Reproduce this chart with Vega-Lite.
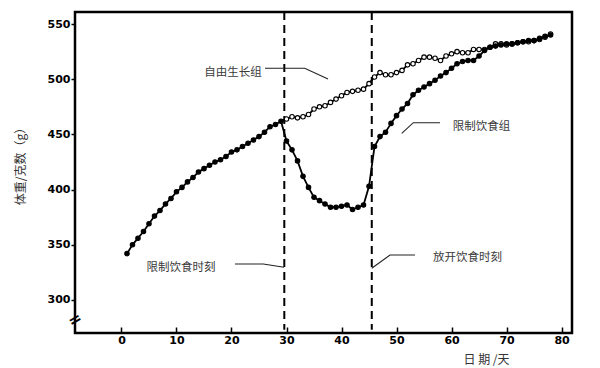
{
  "$schema": "https://vega.github.io/schema/vega-lite/v6.json",
  "width": 497,
  "height": 321,
  "autosize": "none",
  "padding": {"left": 75, "top": 12, "right": 28, "bottom": 35},
  "background": "white",
  "config": {
    "view": {"stroke": "black", "strokeWidth": 2.5},
    "axis": {
      "domain": false,
      "grid": false,
      "tickColor": "black",
      "tickWidth": 1.5,
      "labelFont": "DejaVu Sans",
      "labelFontWeight": "bold",
      "labelFontSize": 11,
      "labelColor": "black",
      "titleFont": "Noto Sans CJK SC",
      "titleFontWeight": "normal",
      "titleFontSize": 12,
      "titleColor": "#333333"
    }
  },
  "datasets": {
    "w": [
      {"day": 1, "weight": 342, "group": "shared"},
      {"day": 2, "weight": 350, "group": "shared"},
      {"day": 3, "weight": 356, "group": "shared"},
      {"day": 4, "weight": 362, "group": "shared"},
      {"day": 5, "weight": 369, "group": "shared"},
      {"day": 6, "weight": 376, "group": "shared"},
      {"day": 7, "weight": 381, "group": "shared"},
      {"day": 8, "weight": 387, "group": "shared"},
      {"day": 9, "weight": 392, "group": "shared"},
      {"day": 10, "weight": 398, "group": "shared"},
      {"day": 11, "weight": 402, "group": "shared"},
      {"day": 12, "weight": 407, "group": "shared"},
      {"day": 13, "weight": 411, "group": "shared"},
      {"day": 14, "weight": 416, "group": "shared"},
      {"day": 15, "weight": 419, "group": "shared"},
      {"day": 16, "weight": 422, "group": "shared"},
      {"day": 17, "weight": 425, "group": "shared"},
      {"day": 18, "weight": 427, "group": "shared"},
      {"day": 19, "weight": 430, "group": "shared"},
      {"day": 20, "weight": 434, "group": "shared"},
      {"day": 21, "weight": 436, "group": "shared"},
      {"day": 22, "weight": 439, "group": "shared"},
      {"day": 23, "weight": 442, "group": "shared"},
      {"day": 24, "weight": 445, "group": "shared"},
      {"day": 25, "weight": 448, "group": "shared"},
      {"day": 26, "weight": 452, "group": "shared"},
      {"day": 27, "weight": 457, "group": "shared"},
      {"day": 28, "weight": 459, "group": "shared"},
      {"day": 29, "weight": 462, "group": "shared"},
      {"day": 29, "weight": 462, "group": "free"},
      {"day": 30, "weight": 464, "group": "free"},
      {"day": 31, "weight": 466, "group": "free"},
      {"day": 32, "weight": 465, "group": "free"},
      {"day": 33, "weight": 466, "group": "free"},
      {"day": 34, "weight": 468, "group": "free"},
      {"day": 35, "weight": 473, "group": "free"},
      {"day": 36, "weight": 475, "group": "free"},
      {"day": 37, "weight": 476, "group": "free"},
      {"day": 38, "weight": 479, "group": "free"},
      {"day": 39, "weight": 482, "group": "free"},
      {"day": 40, "weight": 485, "group": "free"},
      {"day": 41, "weight": 488, "group": "free"},
      {"day": 42, "weight": 489, "group": "free"},
      {"day": 43, "weight": 490, "group": "free"},
      {"day": 44, "weight": 491, "group": "free"},
      {"day": 45, "weight": 496, "group": "free"},
      {"day": 46, "weight": 502, "group": "free"},
      {"day": 47, "weight": 506, "group": "free"},
      {"day": 48, "weight": 504, "group": "free"},
      {"day": 49, "weight": 504, "group": "free"},
      {"day": 50, "weight": 506, "group": "free"},
      {"day": 51, "weight": 508, "group": "free"},
      {"day": 52, "weight": 513, "group": "free"},
      {"day": 53, "weight": 514, "group": "free"},
      {"day": 54, "weight": 517, "group": "free"},
      {"day": 55, "weight": 520, "group": "free"},
      {"day": 56, "weight": 520, "group": "free"},
      {"day": 57, "weight": 519, "group": "free"},
      {"day": 58, "weight": 517, "group": "free"},
      {"day": 59, "weight": 521, "group": "free"},
      {"day": 60, "weight": 523, "group": "free"},
      {"day": 61, "weight": 525, "group": "free"},
      {"day": 62, "weight": 524, "group": "free"},
      {"day": 63, "weight": 524, "group": "free"},
      {"day": 64, "weight": 527, "group": "free"},
      {"day": 65, "weight": 527, "group": "free"},
      {"day": 66, "weight": 527, "group": "free"},
      {"day": 67, "weight": 529, "group": "free"},
      {"day": 68, "weight": 532, "group": "free"},
      {"day": 69, "weight": 532, "group": "free"},
      {"day": 70, "weight": 531, "group": "free"},
      {"day": 71, "weight": 532, "group": "free"},
      {"day": 72, "weight": 533, "group": "free"},
      {"day": 73, "weight": 534, "group": "free"},
      {"day": 74, "weight": 534, "group": "free"},
      {"day": 75, "weight": 535, "group": "free"},
      {"day": 76, "weight": 536, "group": "free"},
      {"day": 77, "weight": 538, "group": "free"},
      {"day": 78, "weight": 541, "group": "free"},
      {"day": 29, "weight": 462, "group": "restricted"},
      {"day": 30, "weight": 444, "group": "restricted"},
      {"day": 31, "weight": 436, "group": "restricted"},
      {"day": 32, "weight": 426, "group": "restricted"},
      {"day": 33, "weight": 412, "group": "restricted"},
      {"day": 34, "weight": 402, "group": "restricted"},
      {"day": 35, "weight": 393, "group": "restricted"},
      {"day": 36, "weight": 390, "group": "restricted"},
      {"day": 37, "weight": 387, "group": "restricted"},
      {"day": 38, "weight": 384, "group": "restricted"},
      {"day": 39, "weight": 384, "group": "restricted"},
      {"day": 40, "weight": 385, "group": "restricted"},
      {"day": 41, "weight": 386, "group": "restricted"},
      {"day": 42, "weight": 382, "group": "restricted"},
      {"day": 43, "weight": 384, "group": "restricted"},
      {"day": 44, "weight": 386, "group": "restricted"},
      {"day": 45, "weight": 403, "group": "restricted"},
      {"day": 46, "weight": 439, "group": "restricted"},
      {"day": 47, "weight": 448, "group": "restricted"},
      {"day": 48, "weight": 452, "group": "restricted"},
      {"day": 49, "weight": 460, "group": "restricted"},
      {"day": 50, "weight": 467, "group": "restricted"},
      {"day": 51, "weight": 473, "group": "restricted"},
      {"day": 52, "weight": 478, "group": "restricted"},
      {"day": 53, "weight": 486, "group": "restricted"},
      {"day": 54, "weight": 490, "group": "restricted"},
      {"day": 55, "weight": 493, "group": "restricted"},
      {"day": 56, "weight": 496, "group": "restricted"},
      {"day": 57, "weight": 499, "group": "restricted"},
      {"day": 58, "weight": 503, "group": "restricted"},
      {"day": 59, "weight": 506, "group": "restricted"},
      {"day": 60, "weight": 510, "group": "restricted"},
      {"day": 61, "weight": 514, "group": "restricted"},
      {"day": 62, "weight": 516, "group": "restricted"},
      {"day": 63, "weight": 517, "group": "restricted"},
      {"day": 64, "weight": 517, "group": "restricted"},
      {"day": 65, "weight": 521, "group": "restricted"},
      {"day": 66, "weight": 526, "group": "restricted"},
      {"day": 67, "weight": 529, "group": "restricted"},
      {"day": 68, "weight": 530, "group": "restricted"},
      {"day": 69, "weight": 531, "group": "restricted"},
      {"day": 70, "weight": 532, "group": "restricted"},
      {"day": 71, "weight": 532, "group": "restricted"},
      {"day": 72, "weight": 533, "group": "restricted"},
      {"day": 73, "weight": 534, "group": "restricted"},
      {"day": 74, "weight": 535, "group": "restricted"},
      {"day": 75, "weight": 535, "group": "restricted"},
      {"day": 76, "weight": 537, "group": "restricted"},
      {"day": 77, "weight": 539, "group": "restricted"},
      {"day": 78, "weight": 540, "group": "restricted"}
    ]
  },
  "encoding": {
    "x": {
      "field": "day", "type": "quantitative",
      "scale": {"domain": [-8.45, 81.9], "nice": false, "zero": false},
      "axis": {
        "values": [0, 10, 20, 30, 40, 50, 60, 70, 80],
        "tickSize": -6,
        "labelPadding": 7,
        "title": "日 期 /天",
        "titleX": 411,
        "titleY": 26,
        "titleBaseline": "middle",
        "titleAlign": "center"
      }
    },
    "y": {
      "field": "weight", "type": "quantitative",
      "scale": {"domain": [270.1, 560.9], "nice": false, "zero": false},
      "axis": {
        "values": [300, 350, 400, 450, 500, 550],
        "tickSize": 4,
        "labelPadding": 1,
        "title": "体重/克数（g）",
        "titleAngle": -90,
        "titleX": -55,
        "titleY": 151,
        "titleBaseline": "middle",
        "titleAlign": "center"
      }
    }
  },
  "layer": [
    {
      "data": {"values": [
        {"day": 29.6, "weight": 560.9, "weight2": 273},
        {"day": 45.5, "weight": 560.9, "weight2": 273}
      ]},
      "mark": {"type": "rule", "strokeDash": [8, 5], "strokeWidth": 2, "color": "black"},
      "encoding": {
        "y2": {"field": "weight2"}
      }
    },
    {
      "data": {"name": "w"},
      "mark": {"type": "line", "color": "black", "strokeWidth": 1.8},
      "encoding": {
        "detail": {"field": "group"},
        "order": {"field": "day"}
      }
    },
    {
      "data": {"name": "w"},
      "transform": [{"filter": "datum.group == 'shared' || datum.day > 29"}],
      "mark": {"type": "point", "filled": true, "size": 20, "stroke": "black", "strokeWidth": 1.1, "opacity": 1},
      "encoding": {
        "fill": {
          "field": "group", "type": "nominal",
          "scale": {"domain": ["shared", "free", "restricted"], "range": ["black", "white", "black"]},
          "legend": null
        }
      }
    },
    {
      "data": {"values": [
        {"id": "a", "k": 1, "day": 26.09, "weight": 509.9},
        {"id": "a", "k": 2, "day": 33.31, "weight": 509.9},
        {"id": "a", "k": 3, "day": 37.55, "weight": 500.2},
        {"id": "b", "k": 1, "day": 57.91, "weight": 460.6},
        {"id": "b", "k": 2, "day": 53.05, "weight": 460.6},
        {"id": "b", "k": 3, "day": 50.95, "weight": 451.0},
        {"id": "c", "k": 1, "day": 20.64, "weight": 332.6},
        {"id": "c", "k": 2, "day": 25.78, "weight": 332.6},
        {"id": "c", "k": 3, "day": 29.55, "weight": 329.6},
        {"id": "d", "k": 1, "day": 53.36, "weight": 340.8},
        {"id": "d", "k": 2, "day": 48.82, "weight": 340.8},
        {"id": "d", "k": 3, "day": 45.49, "weight": 328.7}
      ]},
      "mark": {"type": "line", "color": "#222222", "strokeWidth": 1.1},
      "encoding": {
        "detail": {"field": "id"},
        "order": {"field": "k"}
      }
    },
    {
      "data": {"values": [
        {"label": "自由生长组", "day": 20.27, "weight": 505.6},
        {"label": "限制饮食组", "day": 65.45, "weight": 456.7},
        {"label": "限制饮食时刻", "day": 10.82, "weight": 329.0},
        {"label": "放开饮食时刻", "day": 62.91, "weight": 338.0}
      ]},
      "mark": {"type": "text", "font": "Noto Sans CJK SC", "fontSize": 11.5, "color": "#3a3a3a", "align": "center", "baseline": "middle"},
      "encoding": {
        "text": {"field": "label"}
      }
    },
    {
      "data": {"values": [{"day": -8.45, "weight": 282, "sym": "="}]},
      "mark": {"type": "text", "fontSize": 16, "fontWeight": "bold", "angle": -30, "color": "black", "align": "center", "baseline": "middle", "font": "DejaVu Sans"},
      "encoding": {
        "text": {"field": "sym"}
      }
    }
  ]
}
